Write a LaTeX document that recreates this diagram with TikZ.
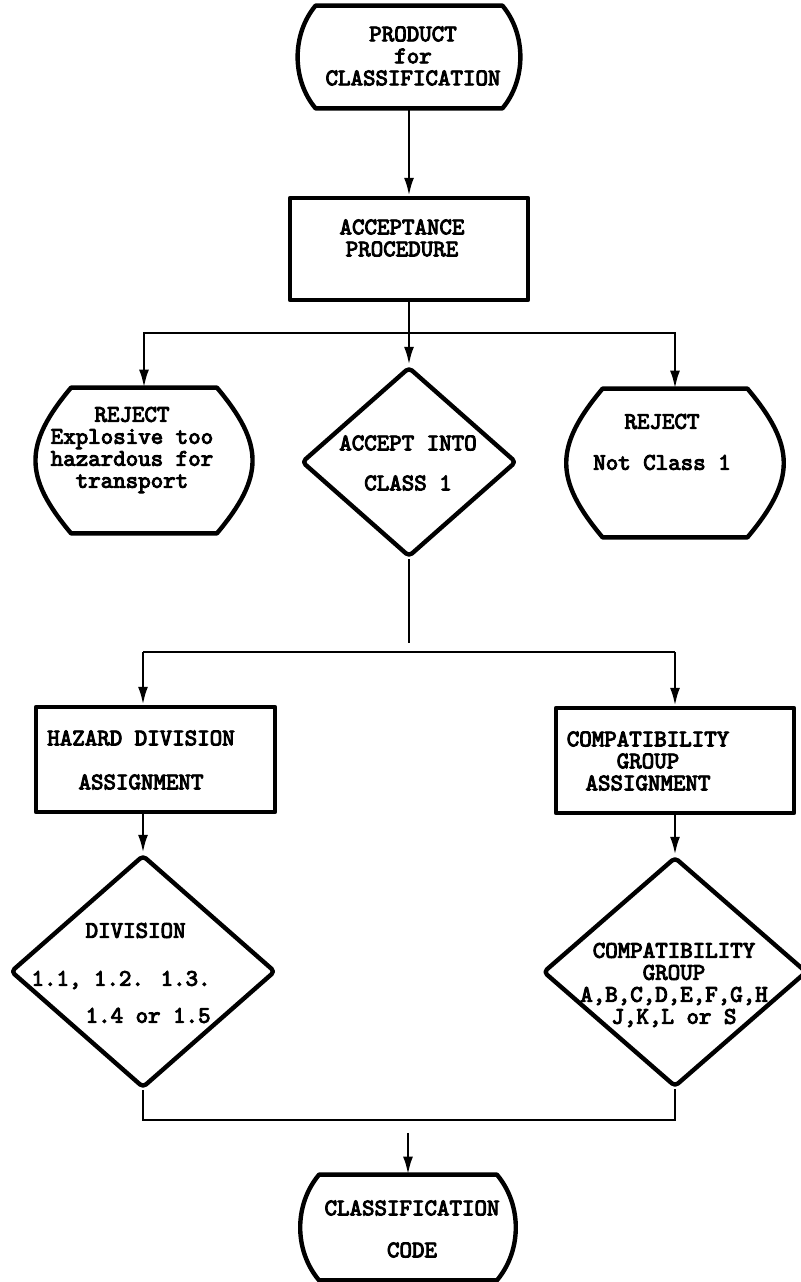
\documentclass[tikz,border=0pt]{standalone}
\usepackage{fontspec}
\newfontfamily\prn{lmmono10-regular}[Extension=.otf, FakeBold=4]
\usetikzlibrary{arrows.meta,shapes.geometric}

\begin{document}
\begin{tikzpicture}[
  x=0.5pt, y=0.5pt,
  every node/.style={inner sep=0pt},
  txt/.style={font=\prn\fontsize{11.9}{11}\selectfont, align=center},
  shape line/.style={line width=2.2pt, line join=round},
  box/.style={draw, shape line, rectangle},
  dec/.style={draw, shape line, diamond, rounded corners=2pt},
  flow/.style={line width=1.3pt},
  arr/.style={flow, -{Latex[length=9pt,width=5pt]}}
]
\useasboundingbox (0,0) rectangle (800,1282);

% shapes
\node (prod) [minimum width=93pt, minimum height=51pt] at (409,1225) {};
\node (accept) [box, minimum width=119pt, minimum height=51pt] at (409,1033) {};
\node (rejl) [minimum width=72.5pt, minimum height=72.5pt] at (144,821.5) {};
\node (acc1) [dec, minimum width=107.5pt, minimum height=95pt] at (409,820) {};
\node (rejr) [minimum width=72pt, minimum height=74pt] at (675,819) {};
\node (hda) [box, minimum width=119.5pt, minimum height=52.5pt] at (155.5,522.5) {};
\node (cga) [box, minimum width=119pt, minimum height=52.5pt] at (675,521.5) {};
\node (hdiv) [dec, minimum width=132.5pt, minimum height=116.5pt] at (143,310.5) {};
\node (cgrp) [dec, minimum width=132pt, minimum height=115pt] at (675,310) {};
\node (code) [minimum width=88.5pt, minimum height=52.5pt] at (408,54.5) {};

% terminals: flat top and bottom, bulging sides
\foreach \n/\l in {prod/0.93, rejl/1.3, rejr/1.3, code/0.95} {
  \draw [shape line] (\n.north west) -- (\n.north east)
    to[out=-50, in=50, looseness=\l] (\n.south east) -- (\n.south west)
    to[out=130, in=-130, looseness=\l] (\n.north west) -- cycle;
}

% texts
\node (prodtxt) [txt] at (413,1226) {PRODUCT\\for\\CLASSIFICATION};
\node (accepttxt) [txt] at (402,1044) {ACCEPTANCE\\PROCEDURE};
\node (rejltxt) [txt] at (132,832) {REJECT\\Explosive too\\hazardous for\\transport};
\node (acc1txt) [txt] at (408,819) {ACCEPT INTO\\[9pt]CLASS 1};
\node (rejrtxt) [txt] at (662,840) {REJECT\\[9.5pt]Not Class 1};
\node (hdatxt) [txt] at (141,522) {HAZARD DIVISION\\[11pt]ASSIGNMENT};
\node (cgatxt) [txt] at (648,521) {COMPATIBILITY\\GROUP\\ASSIGNMENT};
\node (hdivtxt) [txt, align=right, anchor=east] at (211,309)
  {DIVISION\hspace*{12.5pt}\\[13pt]1.1, 1.2. 1.3.\\[7.5pt]1.4 or 1.5};
\node (cgrptxt) [txt] at (674,297) {COMPATIBILITY\\GROUP\\A,B,C,D,E,F,G,H\\J,K,L or S};
\node (codetxt) [txt] at (412,53) {CLASSIFICATION\\[10pt]CODE};

% connectors
\draw [arr] (prod) -- (accept);
\coordinate (split1) at (409,949);
\draw [flow] (accept.south) -- (split1);
\draw [arr] (split1) -| (rejl.north);
\draw [arr] (split1) -- (acc1.north);
\draw [arr] (split1) -| (rejr.north);

\coordinate (stub) at (409,639);
\coordinate (split2l) at (143,630);
\coordinate (split2r) at (675,630);
\draw [flow] (acc1.south) -- (stub);
\draw [flow] (split2l) -- (split2r);
\draw [arr] (split2l) -- (split2l |- hda.north);
\draw [arr] (split2r) -- (cga.north);

\draw [arr] (hda.south -| hdiv.north) -- (hdiv.north);
\draw [arr] (cga) -- (cgrp);

\coordinate (mergel) at (143,162);
\coordinate (merger) at (675,162);
\coordinate (mergeout) at (408,149);
\draw [flow] (hdiv.south) -- (mergel) -- (merger) -- (cgrp.south);
\draw [arr] (mergeout) -- (code.north);

\end{tikzpicture}
\end{document}
